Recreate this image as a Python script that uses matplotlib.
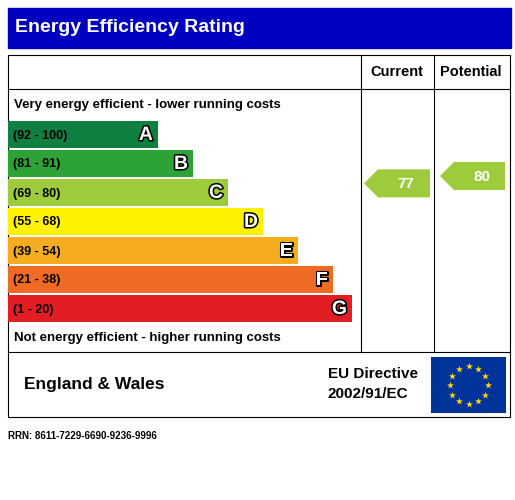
import matplotlib
matplotlib.use("Agg")
import matplotlib.pyplot as plt
from matplotlib.patches import Rectangle, Polygon
import matplotlib.patheffects as pe
import numpy as np

letters = ["A", "B", "C", "D", "E", "F", "G"]
ranges = ["(92 - 100)", "(81 - 91)", "(69 - 80)", "(55 - 68)", "(39 - 54)", "(21 - 38)", "(1 - 20)"]
lows = [92, 81, 69, 55, 39, 21, 1]
highs = [100, 91, 80, 68, 54, 38, 20]
colors = ["#0f8040", "#2da236", "#9dcb3c", "#fff200", "#f6ac1f", "#ee6a25", "#e31d24"]
current = 77
potential = 80

fig = plt.figure(figsize=(5.15, 5.0), dpi=100)
ax = fig.add_axes([0, 0, 1, 1])
ax.set_xlim(0, 515)
ax.set_ylim(500, 0)
ax.axis("off")

# title bar
ax.add_patch(Rectangle((8, 8), 503, 40, color="#0000c0"))
ax.text(15, 28, "Energy Efficiency Rating", color="white", fontsize=14, fontweight="bold",
        va="center", family="Liberation Sans")

# frame
lw = 0.8
ax.add_patch(Rectangle((8, 55), 502, 362, fill=False, ec="black", lw=lw))
ax.plot([8, 510], [89, 89], color="black", lw=lw)
ax.plot([8, 510], [352, 352], color="black", lw=lw)
ax.plot([361, 361], [55, 352], color="black", lw=lw)
ax.plot([434, 434], [55, 352], color="black", lw=lw)
ax.text(397, 72, "Current", ha="center", va="center", fontsize=10.5, fontweight="bold", family="Liberation Sans")
ax.text(471, 72, "Potential", ha="center", va="center", fontsize=10.5, fontweight="bold", family="Liberation Sans")

ax.text(14, 105, "Very energy efficient - lower running costs", va="center", fontsize=9.5,
        fontweight="bold", family="Liberation Sans")
ax.text(14, 338, "Not energy efficient - higher running costs", va="center", fontsize=9.5,
        fontweight="bold", family="Liberation Sans")

top0, h, gap = 121, 27, 2
ends = [158, 193, 228, 263, 298, 333, 352]
outline = [pe.withStroke(linewidth=2.2, foreground="black")]
for i, (lt, rg, c, e) in enumerate(zip(letters, ranges, colors, ends)):
    y = top0 + i * (h + gap)
    ax.add_patch(Rectangle((8, y), e - 8, h, color=c, lw=0))
    ax.text(13, y + h / 2 + 1, rg, va="center", fontsize=9, fontweight="bold", family="Liberation Sans")
    ax.text(e - 5, y + h / 2 + 1, lt, va="center", ha="right", fontsize=14, fontweight="bold",
            color="white", path_effects=outline, family="Liberation Sans")


def rating_y(r):
    for i, (lo, hi) in enumerate(zip(lows, highs)):
        if lo <= r <= hi:
            y = top0 + i * (h + gap)
            return y + (hi - r) / (hi - lo) * h - 3
    return top0


def arrow(r, x0, x1):
    yc = rating_y(r)
    i = next(k for k, (lo, hi) in enumerate(zip(lows, highs)) if lo <= r <= hi)
    pts = [(x0, yc), (x0 + 14, yc - 14), (x1, yc - 14), (x1, yc + 14), (x0 + 14, yc + 14)]
    ax.add_patch(Polygon(pts, color=colors[i], lw=0))
    ax.text((x0 + 14 + x1) / 2 + 2, yc + 1, str(r), ha="center", va="center", fontsize=11,
            fontweight="bold", color="white", family="Liberation Sans")


arrow(current, 364, 430)
arrow(potential, 440, 505)

ax.text(24, 385, "England & Wales", va="center", fontsize=12.5, fontweight="bold", family="Liberation Sans")
ax.text(328, 374, "EU Directive", va="center", fontsize=11, fontweight="bold", family="Liberation Sans")
ax.text(328, 394, "2002/91/EC", va="center", fontsize=11, fontweight="bold", family="Liberation Sans")

# EU flag
ax.add_patch(Rectangle((431, 357), 75, 56, color="#003399", lw=0))
ang = np.linspace(0, 2 * np.pi, 13)[:-1]
ax.scatter(468.5 + 19 * np.cos(ang), 385 + 19 * np.sin(ang), marker="*", s=28, color="#ffdd00", lw=0)

ax.text(8, 436, "RRN: 8611-7229-6690-9236-9996", va="center", fontsize=7, fontweight="bold",
        family="Liberation Sans")

fig.savefig("out.png", dpi=100)
